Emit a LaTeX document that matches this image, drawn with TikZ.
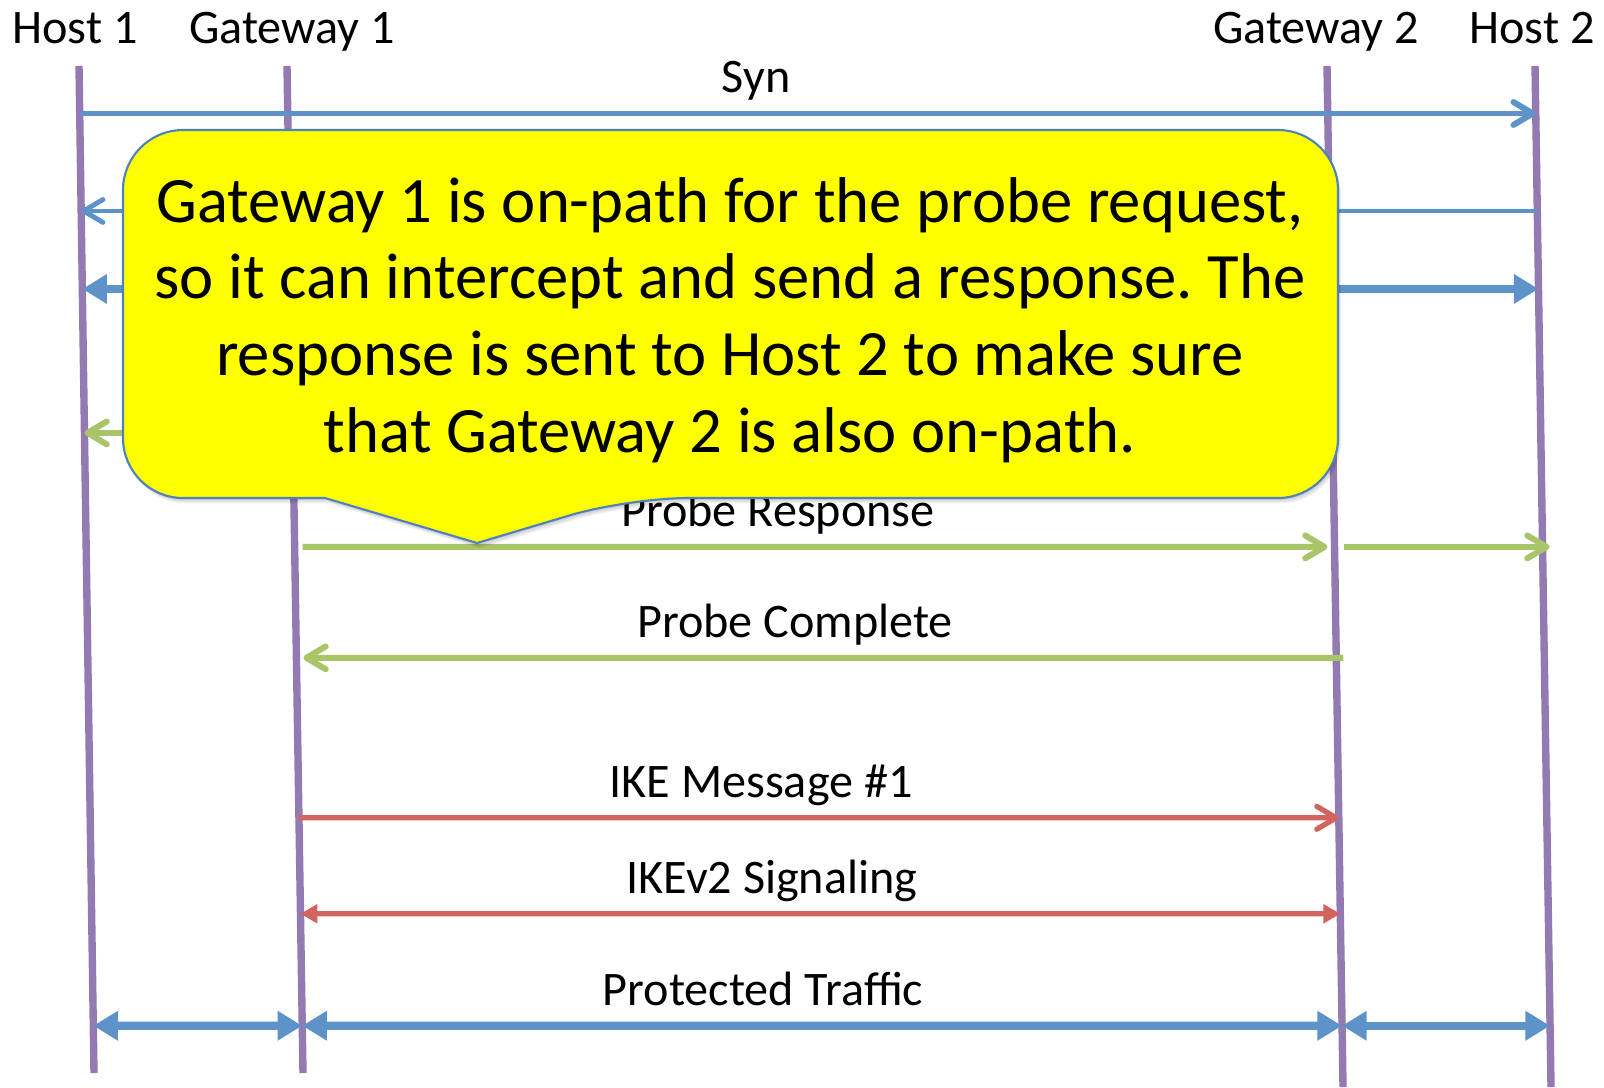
\documentclass[tikz,border=0pt]{standalone}
\usepackage{fontspec}
\setmainfont{Carlito}
\usetikzlibrary{arrows.meta,calc}
\frenchspacing

\definecolor{lifeline}{RGB}{147,122,178}
\definecolor{msgblue}{RGB}{93,147,201}
\definecolor{msggreen}{RGB}{170,196,106}
\definecolor{msgred}{RGB}{210,99,94}
\definecolor{noteedge}{RGB}{79,129,189}
\definecolor{notefill}{RGB}{255,255,0}

% point on a (slightly slanted) lifeline at a given height
\newcommand{\onlife}[3]{\coordinate (#1) at ($(#2t)!(#2t|-0,#3)!(#2b)$);}
% outline of the yellow note with its pointer
\newcommand{\notepath}{(477,543) -- (325,498) [rounded corners=0.6cm] -- (123,498) -- (123,130) -- (1338,130) -- (1338,498) -- (628,498) [sharp corners] -- cycle}

\begin{document}
\begin{tikzpicture}[x=0.01cm,y=-0.01cm]
        \tikzset{life/.style={draw=lifeline,line width=2.1pt},
            head/.style={font=\fontsize{13.7}{16}\selectfont,anchor=base},
            lbl/.style={font=\fontsize{13.7}{16}\selectfont,anchor=base},
            barb/.style={-{Straight Barb[length=5.5pt,width=6.5pt,round]}},
            syn/.style={draw=msgblue,line width=1.7pt,barb},
            ack/.style={draw=msgblue,line width=1.4pt,barb},
            dat/.style={draw=msgblue,line width=2.3pt,
                {Triangle[length=7pt,width=8pt]}-{Triangle[length=7pt,width=8pt]}},
            probe/.style={draw=msggreen,line width=1.7pt,barb},
            ike/.style={draw=msgred,line width=1.5pt},
            sig/.style={draw=msgred,line width=1.5pt,
                {Triangle[length=4.8pt,width=5.2pt]}-{Triangle[length=4.8pt,width=5.2pt]}},
            traffic/.style={draw=msgblue,line width=2.4pt,
                {Triangle[length=7pt,width=8pt]}-{Triangle[length=7pt,width=8pt]}},
            note/.style={fill=notefill,draw=noteedge,line width=0.6pt},
            notetext/.style={font=\fontsize{18.4}{21.8}\selectfont,align=center}}
        \useasboundingbox (0,0) rectangle (1604,1087);

        % parties and their lifelines
        \node[head] (host1) at (75,43) {Host 1};
        \node[head] (gw1) at (292,43) {Gateway 1};
        \node[head] (gw2) at (1316,43) {Gateway 2};
        \node[head] (host2) at (1532,43) {Host 2};
        \coordinate (h1t) at (79,66);   \coordinate (h1b) at (94,1073);
        \coordinate (g1t) at (287,66);  \coordinate (g1b) at (303,1073);
        \coordinate (g2t) at (1327,66); \coordinate (g2b) at (1343,1087);
        \coordinate (h2t) at (1535,66); \coordinate (h2b) at (1551,1087);
        \foreach \lane in {h1,g1,g2,h2}
            \draw[life] (\lane t) -- (\lane b);

        % message ends
        \foreach \n/\lane/\y in {syn1/h1/113.5, syn2/h2/113.5, ack1/h1/211, ack2/h2/211,
                dat1/h1/289, dat2/h2/289, req1/h1/433, req2/g2/433,
                rsp1/g1/547, rsp2/g2/547, rsp3/h2/547, cpl1/g1/658, cpl2/g2/658,
                ike1/g1/818, ike2/g2/818, sig1/g1/914, sig2/g2/914,
                pt1/h1/1026, pt2/g1/1026, pt3/g2/1026, pt4/h2/1026}
            {\onlife{\n}{\lane}{\y}}

        % messages
        \draw[syn] (syn1) -- (syn2);
        \draw[ack] (ack2) -- (ack1);
        \draw[dat] (dat1) -- (dat2);
        \draw[probe] (req2) -- (req1);
        \draw[probe] ([xshift=2.3pt]rsp1) -- ([xshift=-2pt]rsp2);
        \draw[probe] ([xshift=2.8pt]rsp2) -- ([xshift=2pt]rsp3);
        \draw[probe] ([xshift=2pt]cpl2) -- ([xshift=2pt]cpl1);
        \draw[ike,barb] (ike1) -- (ike2);
        \draw[sig] (sig1) -- (sig2);
        \foreach \a/\b in {pt1/pt2,pt2/pt3,pt3/pt4}
            \draw[traffic] (\a) -- (\b);

        \node[lbl] (synlbl) at (756,92) {Syn};
        \node[lbl] (rsplbl) at (778,526) {Probe Response};
        \node[lbl] (cpllbl) at (795,637) {Probe Complete};
        \node[lbl] (ikelbl) at (761,797) {IKE Message \#1};
        \node[lbl] (siglbl) at (772,893) {IKEv2 Signaling};
        \node[lbl] (ptlbl) at (763,1005) {Protected Traffic};

        % the note, with a soft shadow under it
        \foreach \s in {1,...,6}
            \fill[black,opacity=0.04,shift={(0.5*\s,0.9*\s)}] \notepath;
        \path[note] \notepath;
        \node[notetext] (notebox) at (730,320)
            {Gateway 1 is on-path for the probe request,\\
             so it can intercept and send a response. The\\
             response is sent to Host 2 to make sure\\
             that Gateway 2 is also on-path.};
    \end{tikzpicture}
\end{document}
